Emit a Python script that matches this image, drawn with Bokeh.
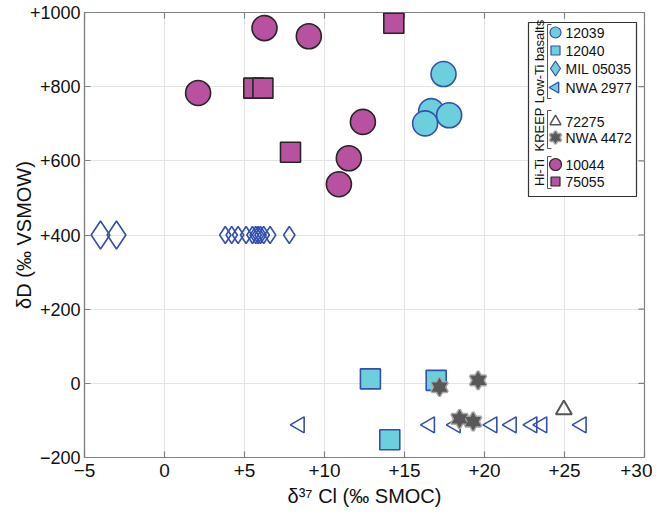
import numpy as np
from bokeh.plotting import figure
from bokeh.models import Range1d, FixedTicker
from bokeh.embed import file_html
from bokeh.resources import INLINE
from bokeh.core.properties import value

# ---------------- data ----------------
x_12039 = [17.44, 16.67, 17.79, 16.29]
y_12039 = [834, 734, 723, 701]

x_12040 = [12.87, 16.98, 14.08]
y_12040 = [12, 8, -152]

x_mil_large = [-4.0, -3.0]
y_mil_large = [400, 400]
x_mil_small = [3.8, 4.2, 4.6, 5.1, 5.5, 5.7, 5.85, 6.0, 6.2, 6.6, 7.8]
y_mil_small = [400] * 11

x_2977 = [8.44, 16.58, 18.19, 20.48, 21.69, 22.98, 23.6, 26.06]
y_2977 = [-112] * 8

x_72275 = [24.96]
y_72275 = [-71]

x_4472 = [17.19, 19.6, 18.44, 19.29]
y_4472 = [-10, 8, -96, -103]

x_10044 = [6.25, 9.02, 2.1, 12.4, 11.52, 10.9]
y_10044 = [958, 936, 783, 705, 607, 537]

x_75055 = [14.33, 5.58, 6.15, 7.875]
y_75055 = [971, 796, 796, 623]

x_ticks = [-5, 0, 5, 10, 15, 20, 25, 30]
x_tick_labels = ["\u22125", "0", "+5", "+10", "+15", "+20", "+25", "+30"]
y_ticks = [-200, 0, 200, 400, 600, 800, 1000]
y_tick_labels = ["\u2212200", "0", "+200", "+400", "+600", "+800", "+1000"]

legend_groups = ["Low-Ti basalts", "KREEP", "Hi-Ti"]
legend_names = ["12039", "12040", "MIL 05035", "NWA 2977", "72275", "NWA 4472", "10044", "75055"]

x_title = "\u03b4\u00b3\u2077 Cl (\u2030 SMOC)"
y_title = "\u03b4D (\u2030 VSMOW)"

# ---------------- styles ----------------
FONT = "Liberation Sans"
CYAN = "#6bcfdc"
BLUE = "#3350ad"
MAG = "#b8519f"
DARK = "#262626"
AXC = "#808080"

XMIN, XMAX, YMIN, YMAX = -5, 30, -200, 1000

p = figure(frame_width=560, frame_height=445,
           x_range=Range1d(XMIN, XMAX), y_range=Range1d(YMIN, YMAX),
           output_backend="svg", toolbar_location=None,
           min_border_left=84, min_border_right=8, min_border_top=12, min_border_bottom=57)
p.background_fill_color = "white"
p.border_fill_color = "white"
p.outline_line_color = AXC
p.outline_line_width = 1.2

p.xaxis.ticker = FixedTicker(ticks=x_ticks)
p.yaxis.ticker = FixedTicker(ticks=y_ticks)
p.xaxis.major_label_overrides = dict(zip(x_ticks, x_tick_labels))
p.yaxis.major_label_overrides = dict(zip(y_ticks, y_tick_labels))
p.xgrid.ticker = FixedTicker(ticks=x_ticks)
p.ygrid.ticker = FixedTicker(ticks=y_ticks)
p.grid.grid_line_color = "#e4e4e4"
p.xaxis.axis_label = x_title
p.yaxis.axis_label = y_title

for ax in [p.xaxis[0], p.yaxis[0]]:
    ax.axis_line_color = AXC
    ax.axis_line_width = 1.2
    ax.major_tick_line_color = AXC
    ax.major_tick_line_width = 1.2
    ax.major_tick_in = 6
    ax.major_tick_out = 0
    ax.minor_tick_line_color = None
    ax.major_label_text_font = FONT
    ax.major_label_text_color = "#111111"
    ax.axis_label_text_font = FONT
    ax.axis_label_text_font_size = "20px"
    ax.axis_label_text_font_style = "normal"
    ax.axis_label_text_color = "#111111"
p.xaxis.major_label_text_font_size = "19px"
p.yaxis.major_label_text_font_size = "18px"
p.xaxis.major_label_standoff = 6
p.xaxis.axis_label_standoff = 5
p.yaxis.major_label_standoff = 4
p.yaxis.axis_label_standoff = -8

# inward ticks on the top and right edges of the box (half of each dash is clipped)
p.scatter(x_ticks, [YMAX] * len(x_ticks), marker="dash", angle=np.pi / 2, size=12,
          line_color=AXC, line_width=1.2)
p.scatter([XMAX] * len(y_ticks), y_ticks, marker="dash", size=12, line_color=AXC, line_width=1.2)


def hexagram(xs, ys, size):
    for m in ["triangle", "inverted_triangle"]:
        p.scatter(xs, ys, marker=m, size=size, fill_color="#a9a9a9",
                  line_color="#a9a9a9", line_width=3)
    for m in ["triangle", "inverted_triangle"]:
        p.scatter(xs, ys, marker=m, size=size, fill_color="#585858", line_color=None)


# ---------------- data marks ----------------
p.scatter(x_10044, y_10044, marker="circle", size=25, fill_color=MAG, line_color=DARK, line_width=1.6)
p.scatter(x_75055, y_75055, marker="square", size=20, fill_color=MAG, line_color=DARK, line_width=1.6)
p.scatter(x_12039, y_12039, marker="circle", size=25, fill_color=CYAN, line_color=BLUE, line_width=1.6)
p.scatter(x_mil_large, y_mil_large, marker="diamond", size=28, fill_color=None, line_color=BLUE, line_width=1.6)
p.scatter(x_mil_small, y_mil_small, marker="diamond", size=17, fill_color=None, line_color=BLUE, line_width=1.6)
p.scatter(x_2977, y_2977, marker="triangle", angle=np.pi / 2, size=16, fill_color=None, line_color=BLUE, line_width=1.6)
p.scatter(x_12040, y_12040, marker="square", size=20, fill_color=CYAN, line_color=BLUE, line_width=1.6)
p.scatter(x_72275, y_72275, marker="triangle", size=16, fill_color=None, line_color="#555555", line_width=2)
hexagram(x_4472, y_4472, 16)


# ---------------- page-pixel helpers for the legend ----------------
def dx(px):
    return XMIN + (px - 84) * (XMAX - XMIN) / 560


def dy(py):
    return YMAX - (py - 12) * (YMAX - YMIN) / 445


p.quad(left=[dx(528)], right=[dx(636)], top=[dy(22)], bottom=[dy(196)],
       fill_color="white", line_color="#333333", line_width=1.2)

rows = [32, 50, 68, 87, 121, 137, 164, 181]
mx = dx(555)
p.scatter([mx], [dy(rows[0])], marker="circle", size=11, fill_color=CYAN, line_color=BLUE, line_width=1.2)
p.scatter([mx], [dy(rows[1])], marker="square", size=9, fill_color=CYAN, line_color=BLUE, line_width=1.2)
p.scatter([mx], [dy(rows[2])], marker="diamond", size=15, fill_color=CYAN, line_color=BLUE, line_width=1.2)
p.scatter([mx], [dy(rows[3])], marker="triangle", angle=np.pi / 2, size=11, fill_color=CYAN, line_color=BLUE, line_width=1.4)
p.scatter([mx], [dy(rows[4])], marker="triangle", size=11, fill_color=None, line_color="#555555", line_width=1.5)
hexagram([mx], [dy(rows[5])], 11)
p.scatter([mx], [dy(rows[6])], marker="circle", size=12, fill_color=MAG, line_color=DARK, line_width=1.2)
p.scatter([mx], [dy(rows[7])], marker="square", size=9, fill_color=MAG, line_color=DARK, line_width=1.2)

p.text(x=[dx(565)] * len(legend_names), y=[dy(r) for r in rows], text=legend_names,
       text_font=value(FONT), text_font_size=value("14px"), text_color="#111111",
       text_baseline="middle", text_align="left")

brackets = [(24, 98), (110, 148), (156, 188)]
label_y = [61, 129, 172]
bx0, bx1 = dx(547), dx(551)
for (t, b) in brackets:
    p.line([bx1, bx0, bx0, bx1], [dy(t), dy(t), dy(b), dy(b)], line_color="#555555", line_width=1)
p.text(x=[dx(539)] * 3, y=[dy(v) for v in label_y], text=legend_groups, angle=np.pi / 2,
       text_font=value(FONT), text_font_size=value("13px"), text_color="#111111",
       text_baseline="middle", text_align="center")

open("out.html", "w").write(file_html(p, INLINE))
